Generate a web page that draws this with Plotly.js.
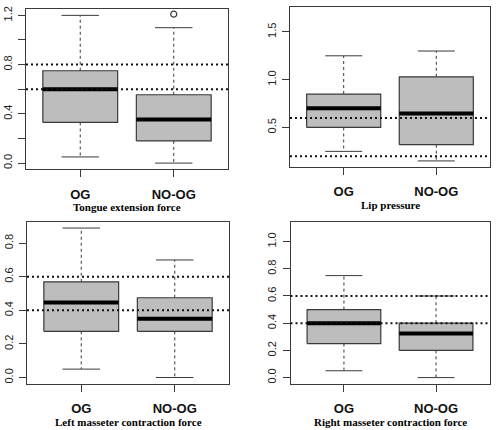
<!DOCTYPE html>
<html>
<head>
<meta charset="utf-8">
<script src="https://cdn.plot.ly/plotly-3.0.1.min.js"></script>
<style>html,body{margin:0;padding:0;background:#fff;}#chart{width:500px;height:430px;}</style>
</head>
<body>
<div id="chart"></div>
<script>
// ---- data ----
var groups = ['OG', 'NO-OG'];

var tongueLow  = [0.05, 0.00];
var tongueQ1   = [0.33, 0.18];
var tongueMed  = [0.60, 0.355];
var tongueQ3   = [0.75, 0.555];
var tongueHigh = [1.20, 1.10];
var tongueOutX = ['NO-OG'];
var tongueOutY = [1.21];
var tongueRef  = [0.6, 0.8];

var lipLow  = [0.25, 0.15];
var lipQ1   = [0.50, 0.32];
var lipMed  = [0.70, 0.645];
var lipQ3   = [0.85, 1.03];
var lipHigh = [1.25, 1.30];
var lipRef  = [0.2, 0.6];

var leftLow  = [0.05, 0.00];
var leftQ1   = [0.275, 0.275];
var leftMed  = [0.447, 0.35];
var leftQ3   = [0.57, 0.475];
var leftHigh = [0.89, 0.70];
var leftRef  = [0.4, 0.6];

var rightLow  = [0.05, 0.00];
var rightQ1   = [0.25, 0.20];
var rightMed  = [0.40, 0.325];
var rightQ3   = [0.50, 0.40];
var rightHigh = [0.75, 0.60];
var rightRef  = [0.4, 0.6];

var titles = ['Tongue extension force', 'Lip pressure',
              'Left masseter contraction force', 'Right masseter contraction force'];

var tongueTicks = [0, 0.2, 0.4, 0.6, 0.8, 1.0, 1.2];
var tongueTickText = ['0.0', '', '0.4', '', '0.8', '', '1.2'];
var lipTicks = [0.5, 1.0, 1.5];
var lipTickText = ['0.5', '1.0', '1.5'];
var leftTicks = [0, 0.2, 0.4, 0.6, 0.8];
var leftTickText = ['0.0', '0.2', '0.4', '0.6', '0.8'];
var rightTicks = [0, 0.2, 0.4, 0.6, 0.8, 1.0];
var rightTickText = ['0.0', '0.2', '0.4', '0.6', '0.8', '1.0'];

// ---- layout geometry ----
var panels = [
  {low: tongueLow, q1: tongueQ1, med: tongueMed, q3: tongueQ3, high: tongueHigh,
   outX: tongueOutX, outY: tongueOutY, ref: tongueRef, tv: tongueTicks, tt: tongueTickText,
   xd: [0.052, 0.456], yd: [0.607, 0.978], yr: [-0.048, 1.248]},
  {low: lipLow, q1: lipQ1, med: lipMed, q3: lipQ3, high: lipHigh,
   outX: [], outY: [], ref: lipRef, tv: lipTicks, tt: lipTickText,
   xd: [0.580, 0.980], yd: [0.612, 0.984], yr: [0.088, 1.762]},
  {low: leftLow, q1: leftQ1, med: leftMed, q3: leftQ3, high: leftHigh,
   outX: [], outY: [], ref: leftRef, tv: leftTicks, tt: leftTickText,
   xd: [0.054, 0.458], yd: [0.108, 0.4837], yr: [-0.036, 0.926]},
  {low: rightLow, q1: rightQ1, med: rightMed, q3: rightQ3, high: rightHigh,
   outX: [], outY: [], ref: rightRef, tv: rightTicks, tt: rightTickText,
   xd: [0.581, 0.979], yd: [0.108, 0.4837], yr: [-0.044, 1.144]}
];

var BOXW = 0.4, CAPW = 0.2;
var edge = '#3a3a3a';
var traces = [];
var layout = {
  width: 500, height: 430,
  margin: {l: 0, r: 0, t: 0, b: 0},
  paper_bgcolor: '#fff', plot_bgcolor: '#fff',
  showlegend: false,
  font: {family: 'Liberation Sans, Arial, sans-serif', color: '#222'},
  shapes: [], annotations: []
};

panels.forEach(function (p, k) {
  var n = k + 1;
  var xa = 'x' + (n === 1 ? '' : n), ya = 'y' + (n === 1 ? '' : n);
  var bx = [], by = [], wx = [], wy = [], cx = [], cy = [], mx = [], my = [];
  groups.forEach(function (g, i) {
    var c = i + 1;
    bx.push(c - BOXW, c + BOXW, c + BOXW, c - BOXW, c - BOXW, null);
    by.push(p.q1[i], p.q1[i], p.q3[i], p.q3[i], p.q1[i], null);
    wx.push(c, c, null, c, c, null);
    wy.push(p.q3[i], p.high[i], null, p.q1[i], p.low[i], null);
    cx.push(c - CAPW, c + CAPW, null, c - CAPW, c + CAPW, null);
    cy.push(p.high[i], p.high[i], null, p.low[i], p.low[i], null);
    mx.push(c - BOXW, c + BOXW, null);
    my.push(p.med[i], p.med[i], null);
  });
  traces.push({type: 'scatter', mode: 'lines', x: wx, y: wy, xaxis: xa, yaxis: ya,
    line: {color: edge, width: 1, dash: '3px,3px'}, hoverinfo: 'skip'});
  traces.push({type: 'scatter', mode: 'lines', x: cx, y: cy, xaxis: xa, yaxis: ya,
    line: {color: edge, width: 1}, hoverinfo: 'skip'});
  traces.push({type: 'scatter', mode: 'lines', x: bx, y: by, xaxis: xa, yaxis: ya,
    fill: 'toself', fillcolor: '#bdbdbd', line: {color: edge, width: 1.2}, hoverinfo: 'skip'});
  traces.push({type: 'scatter', mode: 'lines', x: mx, y: my, xaxis: xa, yaxis: ya,
    line: {color: '#000', width: 4}, hoverinfo: 'skip'});
  if (p.outX.length) {
    traces.push({type: 'scatter', mode: 'markers',
      x: p.outX.map(function (g) { return groups.indexOf(g) + 1; }), y: p.outY,
      xaxis: xa, yaxis: ya,
      marker: {symbol: 'circle-open', size: 6, color: edge, line: {width: 1.2, color: edge}}});
  }
  layout['xaxis' + (n === 1 ? '' : n)] = {
    domain: p.xd, anchor: ya, range: [0.42, 2.58],
    tickvals: [1, 2], ticktext: groups,
    ticks: 'outside', ticklen: 7, tickcolor: edge, tickwidth: 1,
    showline: true, mirror: true, linecolor: edge, linewidth: 1,
    showgrid: false, zeroline: false, fixedrange: true,
    ticklabelstandoff: 6,
    tickfont: {family: 'Liberation Sans, Arial, sans-serif', size: 13, color: '#111', weight: 'bold'}
  };
  layout['yaxis' + (n === 1 ? '' : n)] = {
    domain: p.yd, anchor: xa, range: p.yr,
    tickvals: p.tv, ticktext: p.tt, tickangle: -90,
    ticks: 'outside', ticklen: 7, tickcolor: edge, tickwidth: 1,
    showline: true, mirror: true, linecolor: edge, linewidth: 1,
    showgrid: false, zeroline: false, fixedrange: true,
    ticklabelstandoff: 2,
    tickfont: {family: 'Liberation Sans, Arial, sans-serif', size: 11, color: '#222'}
  };
  p.ref.forEach(function (v) {
    layout.shapes.push({type: 'line', xref: xa + ' domain', yref: ya,
      x0: 0, x1: 1, y0: v, y1: v, layer: 'above',
      line: {color: '#111', width: 2, dash: '2px,3px'}});
  });
  layout.annotations.push({
    text: '<b>' + titles[k] + '</b>', xref: xa + ' domain', yref: ya + ' domain',
    x: 0.5, y: 0, yshift: -38, xanchor: 'center', yanchor: 'middle', showarrow: false,
    font: {family: 'Liberation Serif, Times New Roman, serif', size: 11, color: '#000'}
  });
});

Plotly.newPlot('chart', traces, layout, {staticPlot: true, displayModeBar: false});
</script>
</body>
</html>
